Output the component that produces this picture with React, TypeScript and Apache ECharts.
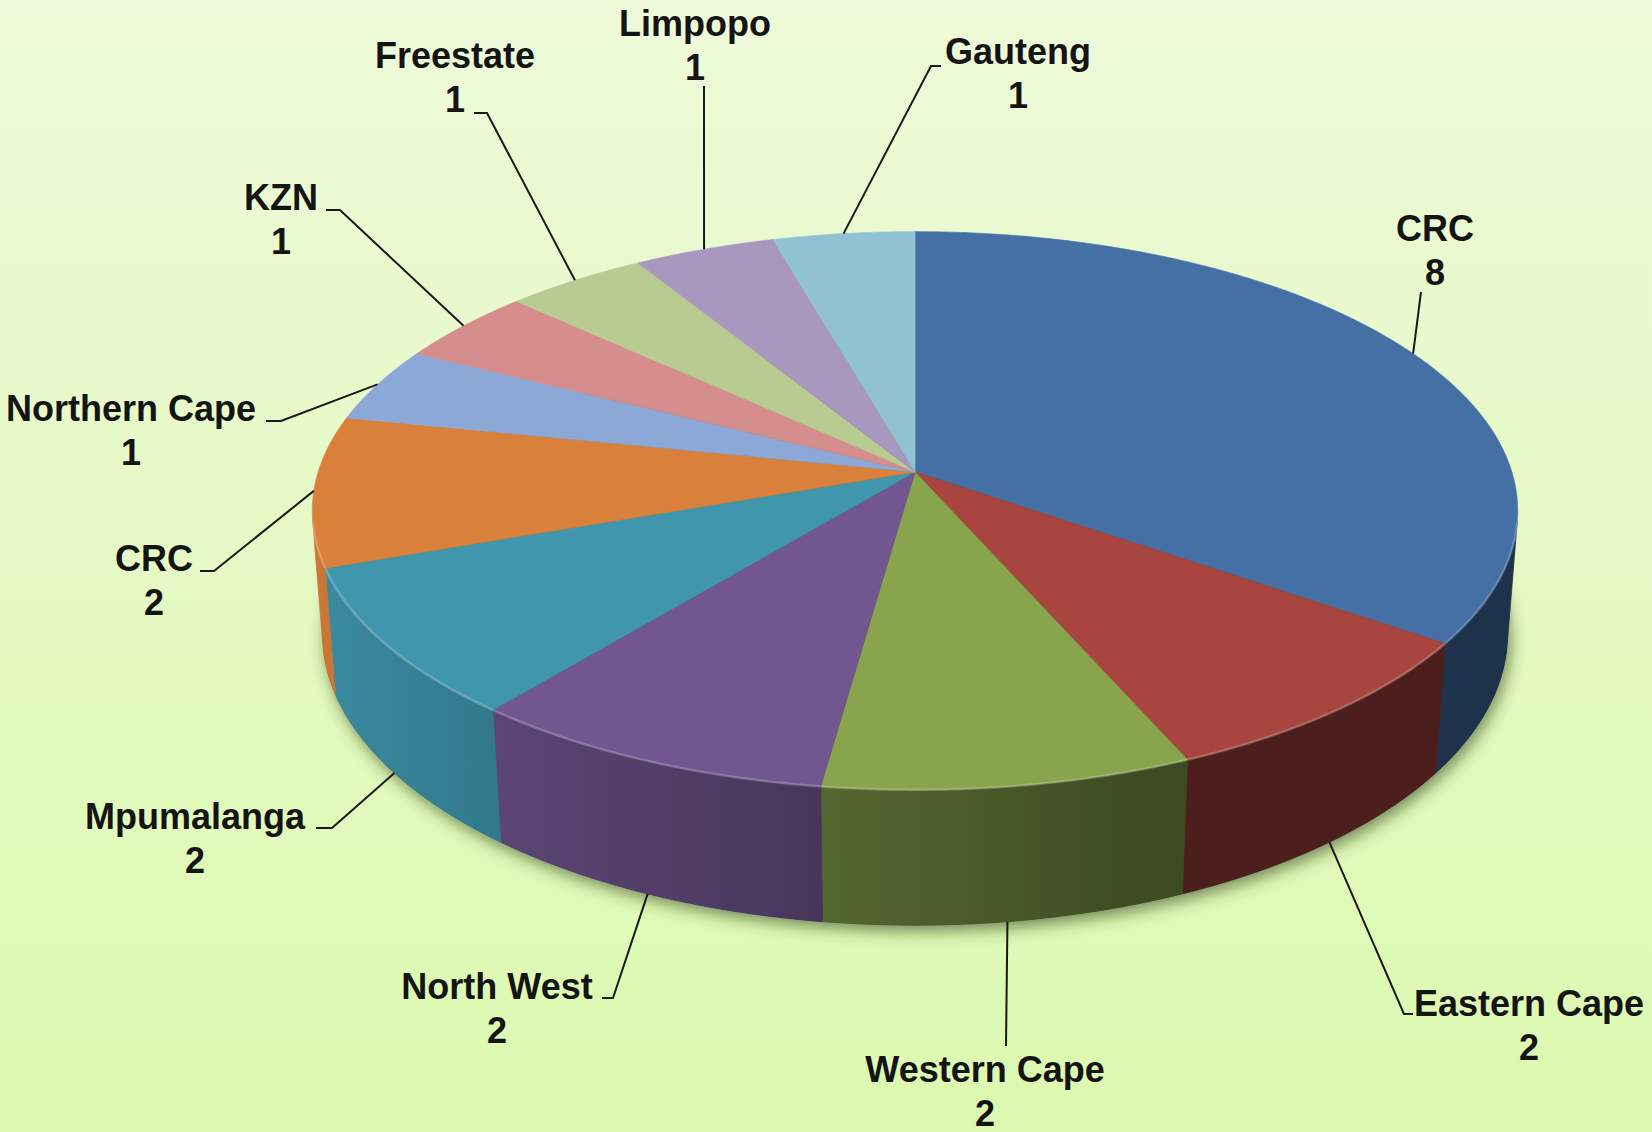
import React, { useEffect, useRef } from 'react';
import * as echarts from 'echarts';

// ---------- data ----------
const categories = ['CRC', 'Eastern Cape', 'Western Cape', 'North West', 'Mpumalanga', 'CRC', 'Northern Cape', 'KZN', 'Freestate', 'Limpopo', 'Gauteng'];
const values = [8, 2, 2, 2, 2, 2, 1, 1, 1, 1, 1];
const colors = ['#4470A6', '#A8453F', '#88A44C', '#725690', '#3F96AD', '#D9803A', '#8CA8D6', '#D58E8D', '#B8CC92', '#A898C0', '#90C2D4'];

// ---------- label layout (text centre of first line, leader elbow, tick end) ----------
const labelText = [[1435, 228], [1529, 1003], [985, 1069], [497, 986], [195, 816], [154, 558], [131, 408], [281, 197], [455, 55], [695, 23], [1018, 51]];
const labelElbow = [[1421, 292], [1404, 1014], [1006, 1046], [613, 998], [332, 828], [214, 571], [281, 421], [340, 210], [487, 113], [704, 86], [931, 66]];
const labelTick = [[1421, 292], [1413, 1014], [1006, 1046], [602, 998], [316, 828], [200, 571], [266, 421], [326, 210], [474, 113], [704, 86], [941, 66]];

// ---------- 3D projection ----------
const CX = 915, CY = 472, F = 3820, D = 6.4, PHI = (27.3 * Math.PI) / 180, H = 0.234;
const S = Math.sin(PHI), C = Math.cos(PHI);
function proj(theta: number, Y: number): number[] {
  const t = (theta * Math.PI) / 180;
  const X = Math.sin(t), Z = -Math.cos(t);
  const depth = D - Y * S - Z * C;
  return [CX + (F * X) / depth, CY - (F * (Y * C - Z * S)) / depth];
}
const WALL_MIN = (Math.acos(-1 / (D * C)) * 180) / Math.PI;
const WALL_MAX = 360 - WALL_MIN;

function shadeFactor(theta: number) {
  const s = Math.sin((theta * Math.PI) / 180);
  const f = 0.43 + (0.41 - s) * 0.363;
  return Math.max(0.45, Math.min(1, f));
}
function shade(hex: string, f: number) {
  const r = parseInt(hex.slice(1, 3), 16), g = parseInt(hex.slice(3, 5), 16), b = parseInt(hex.slice(5, 7), 16);
  return `rgb(${Math.round(r * f)},${Math.round(g * f)},${Math.round(b * f)})`;
}

export default function App() {
  const ref = useRef<HTMLDivElement>(null);
  useEffect(() => {
    document.body.style.margin = '0';
    const chart = echarts.init(ref.current!, undefined, { renderer: 'svg' });
    const total = values.reduce((a, b) => a + b, 0);
    const starts: number[] = [];
    const ends: number[] = [];
    let acc = 0;
    values.forEach((v) => {
      starts.push((acc / total) * 360);
      acc += v;
      ends.push((acc / total) * 360);
    });

    const font = 'bold 36px "Liberation Sans", Arial, sans-serif';

    const renderItem = (params: any, api: any) => {
      const i = params.dataIndex;
      const a0 = starts[i], a1 = ends[i];
      const children: any[] = [];
      if (i === 0) {
        const pts: number[][] = [];
        for (let t = 0; t <= 360; t += 2) pts.push(proj(t, -H));
        children.push({
          type: 'polygon',
          shape: { points: pts },
          style: { fill: '#2f3d1a', shadowBlur: 16, shadowColor: 'rgba(40,60,10,0.6)', shadowOffsetY: 6, shadowOffsetX: 3 },
        });
      }
      // wall (front-facing part only), shaded with a horizontal gradient
      const w0 = Math.max(a0, WALL_MIN), w1 = Math.min(a1, WALL_MAX);
      if (w1 > w0) {
        const n = Math.max(2, Math.ceil((w1 - w0) * 2));
        const topArc: number[][] = [];
        const botArc: number[][] = [];
        for (let k = 0; k <= n; k++) {
          const t = w0 + ((w1 - w0) * k) / n;
          topArc.push(proj(t, 0));
          botArc.push(proj(t, -H));
        }
        const xs = topArc.map((p) => p[0]);
        const xMin = Math.min(...xs), xMax = Math.max(...xs);
        const stops: any[] = [];
        const m = 8;
        for (let k = 0; k <= m; k++) {
          const t = w0 + ((w1 - w0) * k) / m;
          const x = proj(t, -H / 2)[0];
          const off = xMax - xMin > 0.5 ? (x - xMin) / (xMax - xMin) : k / m;
          stops.push({ offset: Math.max(0, Math.min(1, off)), color: shade(colors[i], shadeFactor(t)) });
        }
        stops.sort((p, q) => p.offset - q.offset);
        const grad = new echarts.graphic.LinearGradient(xMin, 0, Math.max(xMax, xMin + 1), 0, stops, true);
        children.push({
          type: 'polygon',
          shape: { points: topArc.concat(botArc.slice().reverse()) },
          style: { fill: grad, stroke: grad, lineWidth: 0.8 },
        });
      }
      // top face
      const top: number[][] = [[CX, CY]];
      const steps = Math.max(2, Math.ceil((a1 - a0) * 2));
      for (let k = 0; k <= steps; k++) top.push(proj(a0 + ((a1 - a0) * k) / steps, 0));
      children.push({
        type: 'polygon',
        shape: { points: top },
        style: { fill: colors[i], stroke: colors[i], lineWidth: 0.6 },
      });
      // bevel highlight along the front edge
      if (w1 > w0) {
        const hl: number[][] = [];
        const n = Math.max(2, Math.ceil((w1 - w0) * 2));
        for (let k = 0; k <= n; k++) hl.push(proj(w0 + ((w1 - w0) * k) / n, 0));
        children.push({
          type: 'polyline',
          shape: { points: hl },
          style: { fill: null, stroke: 'rgba(255,255,255,0.22)', lineWidth: 2.5 },
        });
      }
      // leader line
      const mid = (a0 + a1) / 2;
      const start = mid > WALL_MIN && mid < WALL_MAX ? proj(mid, -H) : proj(mid, 0);
      children.push({
        type: 'polyline',
        shape: { points: [start, labelElbow[i], labelTick[i]] },
        style: { fill: null, stroke: '#1a1a1a', lineWidth: 2 },
      });
      // label
      children.push({
        type: 'text',
        x: labelText[i][0],
        y: labelText[i][1] + 22,
        style: {
          text: categories[i] + '\n' + api.value(0),
          font,
          fill: '#141414',
          align: 'center',
          verticalAlign: 'middle',
          lineHeight: 44,
        },
      });
      return { type: 'group', children };
    };

    chart.setOption({
      animation: false,
      backgroundColor: new echarts.graphic.LinearGradient(0, 0, 0, 1, [
        { offset: 0, color: '#EEFAD9' },
        { offset: 1, color: '#DCF9AF' },
      ]),
      series: [
        {
          type: 'custom',
          coordinateSystem: 'none',
          renderItem,
          data: values.map((v, i) => ({ value: [v], name: categories[i] })),
        },
      ],
    });
    return () => chart.dispose();
  }, []);
  return <div ref={ref} style={{ width: 1652, height: 1132 }} />;
}
